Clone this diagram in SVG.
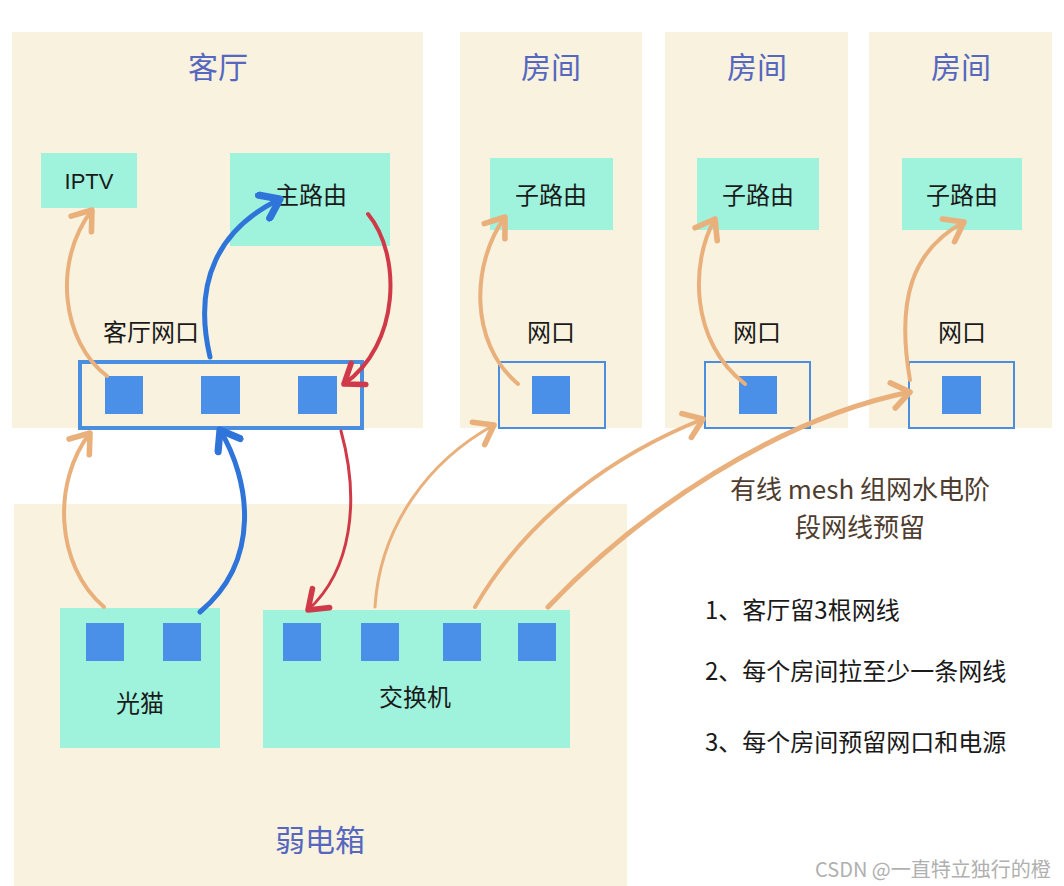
<svg xmlns="http://www.w3.org/2000/svg" width="1064" height="886" viewBox="0 0 1064 886">
<defs>
<style>
.panel{fill:#f8f2df}
.box{fill:#9ff2dc}
.sq{fill:#4a8fe8}
.pbox{fill:none;stroke:#4a8fdf;stroke-width:2}
.title{font-family:"Noto Sans CJK SC",sans-serif;font-size:30px;fill:#5667c0;text-anchor:middle}
.lbl{font-family:"Noto Sans CJK SC",sans-serif;font-size:24px;fill:#1a1a1a;text-anchor:middle}
.note{font-family:"Noto Sans CJK SC",sans-serif;font-size:24px;fill:#1a1a1a}
.head{font-family:"Noto Sans CJK SC",sans-serif;font-size:26px;fill:#4e3d2f;text-anchor:middle}
.tan{fill:none;stroke:#e9b07c;stroke-width:4;stroke-linecap:round}
.blue{fill:none;stroke:#2f74d9;stroke-width:5;stroke-linecap:round}
.red{fill:none;stroke:#d03a48;stroke-width:4;stroke-linecap:round}
</style>
<marker id="aT" markerUnits="userSpaceOnUse" markerWidth="32" markerHeight="32" refX="14" refY="10" viewBox="0 0 20 20" orient="auto"><path d="M3,2 L14,10 L3,18" fill="none" stroke="#e9b07c" stroke-width="3.5" stroke-linecap="round" stroke-linejoin="round"/></marker>
<marker id="aB" markerUnits="userSpaceOnUse" markerWidth="32" markerHeight="32" refX="14" refY="10" viewBox="0 0 20 20" orient="auto"><path d="M3,2 L14,10 L3,18" fill="none" stroke="#2f74d9" stroke-width="4.5" stroke-linecap="round" stroke-linejoin="round"/></marker>
<marker id="aR" markerUnits="userSpaceOnUse" markerWidth="32" markerHeight="32" refX="14" refY="10" viewBox="0 0 20 20" orient="auto"><path d="M3,2 L14,10 L3,18" fill="none" stroke="#d03a48" stroke-width="3.5" stroke-linecap="round" stroke-linejoin="round"/></marker>
</defs>
<rect width="1064" height="886" fill="#ffffff"/>

<g id="livingroom">
<rect class="panel" x="12" y="32" width="411" height="396"/>
<text class="title" x="218" y="78">客厅</text>
</g>
<g id="room1"><rect class="panel" x="460" y="32" width="182" height="396"/><text class="title" x="551" y="78">房间</text></g>
<g id="room2"><rect class="panel" x="665" y="32" width="183" height="396"/><text class="title" x="757" y="78">房间</text></g>
<g id="room3"><rect class="panel" x="869" y="32" width="183" height="396"/><text class="title" x="961" y="78">房间</text></g>
<g id="weakbox"><rect class="panel" x="14" y="504" width="613" height="382"/><text class="title" x="320" y="851">弱电箱</text></g>

<g id="iptv"><rect class="box" x="41" y="153" width="96" height="55"/><text class="lbl" x="89" y="189" style="font-family:'Liberation Sans',sans-serif;font-size:22px">IPTV</text></g>
<g id="mainrouter"><rect class="box" x="230" y="153" width="160" height="93"/><text class="lbl" x="311" y="204">主路由</text></g>
<g id="lrports">
<text class="lbl" x="151" y="341">客厅网口</text>
<rect x="80" y="362" width="282" height="66" fill="none" stroke="#4a8fdf" stroke-width="4"/>
<rect class="sq" x="105" y="376" width="38" height="38"/>
<rect class="sq" x="201" y="376" width="39" height="38"/>
<rect class="sq" x="298" y="376" width="39" height="38"/>
</g>
<g id="sub1"><rect class="box" x="490" y="158" width="123" height="72"/><text class="lbl" x="551" y="204">子路由</text></g>
<g id="sub2"><rect class="box" x="697" y="158" width="122" height="72"/><text class="lbl" x="758" y="204">子路由</text></g>
<g id="sub3"><rect class="box" x="902" y="158" width="120" height="72"/><text class="lbl" x="962" y="204">子路由</text></g>
<g id="port1"><text class="lbl" x="551" y="341">网口</text><rect class="pbox" x="499" y="362" width="106" height="66"/><rect class="sq" x="532" y="376" width="38" height="38"/></g>
<g id="port2"><text class="lbl" x="757" y="341">网口</text><rect class="pbox" x="705" y="362" width="105" height="66"/><rect class="sq" x="739" y="376" width="38" height="38"/></g>
<g id="port3"><text class="lbl" x="962" y="341">网口</text><rect class="pbox" x="909" y="362" width="105" height="66"/><rect class="sq" x="942" y="376" width="39" height="38"/></g>
<g id="modem"><rect class="box" x="60" y="608" width="160" height="140"/><rect class="sq" x="86" y="623" width="38" height="38"/><rect class="sq" x="163" y="623" width="38" height="38"/><text class="lbl" x="140" y="712">光猫</text></g>
<g id="switch"><rect class="box" x="263" y="610" width="307" height="138"/><rect class="sq" x="283" y="623" width="38" height="38"/><rect class="sq" x="361" y="623" width="38" height="38"/><rect class="sq" x="443" y="623" width="38" height="38"/><rect class="sq" x="518" y="623" width="38" height="38"/><text class="lbl" x="415" y="706">交换机</text></g>

<g id="connectors">
<path class="tan" d="M107,376 C62,342 52,262 92,210" marker-end="url(#aT)"/>
<path class="blue" d="M210,357 C192,280 220,228 280,199" marker-end="url(#aB)"/>
<path class="red" d="M368,214 C402,255 400,345 344,384" marker-end="url(#aR)"/>
<path class="tan" d="M104,607 C55,565 52,482 90,433" marker-end="url(#aT)"/>
<path class="blue" d="M200,612 C262,560 250,480 220,430" marker-end="url(#aB)"/>
<path class="red" style="stroke-width:3" d="M341,431 C360,500 352,570 308,610" marker-end="url(#aR)"/>
<path class="tan" style="stroke-width:3" d="M375,607 C380,525 430,460 494,425" marker-end="url(#aT)"/>
<path class="tan" d="M475,607 C530,512 620,452 703,419" marker-end="url(#aT)"/>
<path class="tan" style="stroke-width:5" d="M548,607 C640,510 780,418 910,392" marker-end="url(#aT)"/>
<path class="tan" d="M518,384 C468,342 472,262 505,217" marker-end="url(#aT)"/>
<path class="tan" d="M745,384 C690,342 690,262 715,219" marker-end="url(#aT)"/>
<path class="tan" d="M910,380 C896,300 912,250 964,222" marker-end="url(#aT)"/>
</g>

<g id="notes">
<text class="head" x="860" y="499">有线 mesh 组网水电阶</text>
<text class="head" x="860" y="537">段网线预留</text>
<text class="note" x="705" y="619">1、客厅留3根网线</text>
<text class="note" x="705" y="680">2、每个房间拉至少一条网线</text>
<text class="note" x="705" y="751">3、每个房间预留网口和电源</text>
<text x="815" y="877" style="font-family:'Noto Sans CJK SC',sans-serif;font-size:20px;fill:#b0b0b0">CSDN @一直特立独行的橙</text>
</g>
</svg>
